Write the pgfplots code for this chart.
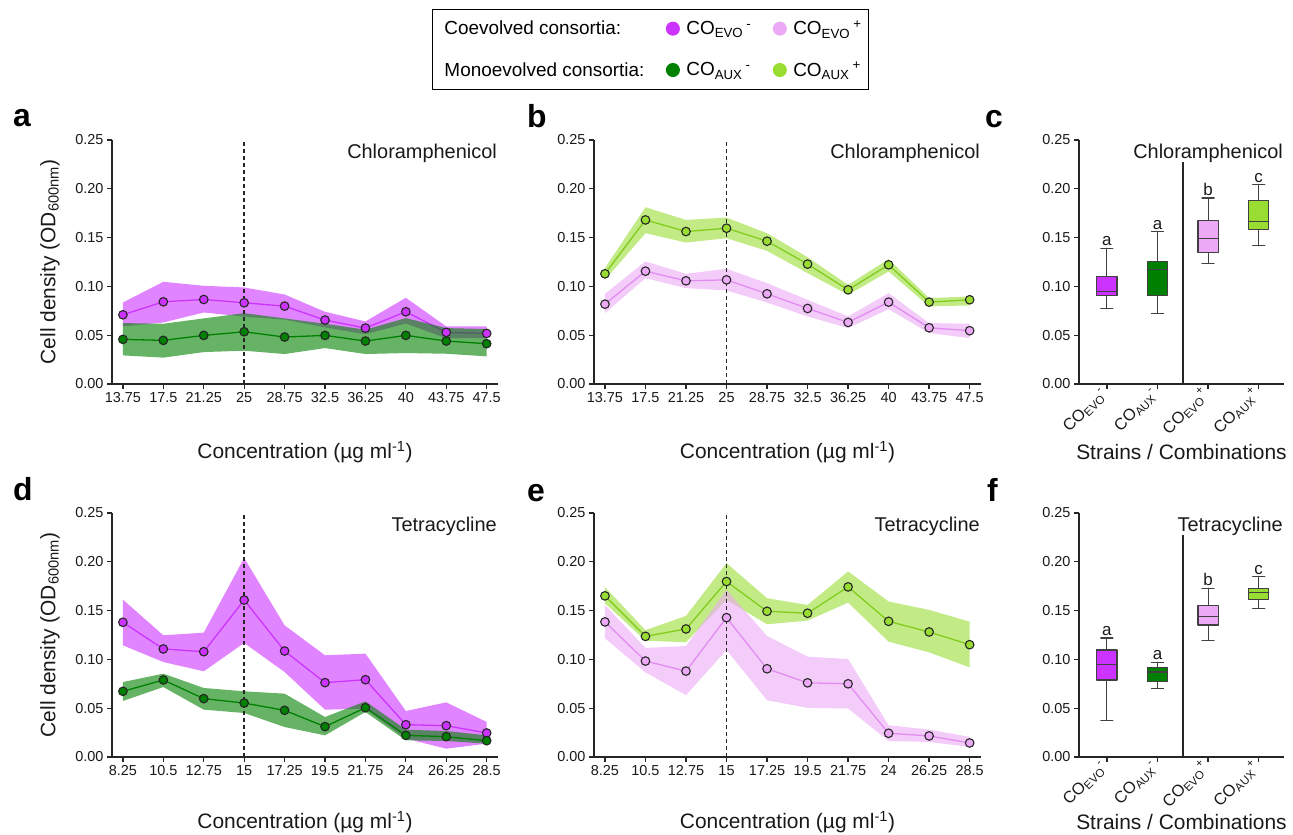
\documentclass[border=0pt]{standalone}
\usepackage{fontspec}
\setmainfont{Liberation Sans}
\usepackage{pgfplots}
\pgfplotsset{compat=1.18}
\usepackage{pgfplotstable}

\definecolor{cMag}{RGB}{204,51,255}
\definecolor{cGrn}{RGB}{0,128,0}
\definecolor{cPnk}{RGB}{236,170,246}
\definecolor{cPnkL}{RGB}{226,140,242}
\definecolor{cLim}{RGB}{153,221,51}
\definecolor{cLimL}{RGB}{130,204,30}

% means; m1 = CO_EVO, m2 = CO_AUX
\pgfplotstableread{
x m1 m2
0 0.0709 0.0457
1 0.0842 0.0447
2 0.0866 0.0498
3 0.0832 0.0535
4 0.0798 0.0481
5 0.0655 0.0498
6 0.0573 0.0440
7 0.0740 0.0498
8 0.0529 0.0440
9 0.0518 0.0413
}\tA
\pgfplotstableread{
x m1 m2
0 0.0818 0.1129
1 0.1156 0.1681
2 0.1057 0.1562
3 0.1067 0.1596
4 0.0924 0.1463
5 0.0774 0.1228
6 0.0631 0.0965
7 0.0839 0.1221
8 0.0576 0.0839
9 0.0546 0.0863
}\tB
\pgfplotstableread{
x m1 m2
0 0.1380 0.0673
1 0.1107 0.0789
2 0.1079 0.0598
3 0.1608 0.0553
4 0.1086 0.0478
5 0.0762 0.0311
6 0.0792 0.0505
7 0.0331 0.0222
8 0.0321 0.0208
9 0.0246 0.0167
}\tD
\pgfplotstableread{
x m1 m2
0 0.1384 0.1651
1 0.0983 0.1236
2 0.0880 0.1312
3 0.1428 0.1798
4 0.0904 0.1493
5 0.0760 0.1473
6 0.0750 0.1743
7 0.0243 0.1390
8 0.0216 0.1281
9 0.0144 0.1151
}\tE

% #1 table, #2 mean col, #3 line colour, #4 marker fill
\newcommand{\mline}[4]{%
  \addplot[color=#3, line width=1.3bp, mark=*, mark size=4.3bp,
    mark options={fill=#4, draw=black!85, line width=1.1bp, solid}, forget plot]
    table[x=x, y=#2]{#1};
}
\newcommand{\refdash}{%
  \addplot[black!85, line width=1.5bp, dash pattern=on 4bp off 3bp, forget plot]
    coordinates {(3,0) (3,0.25)};
}
% box plot: #1 position, #2 lower whisker, #3 q1, #4 median, #5 q3, #6 upper whisker, #7 colour
\newcommand{\bxp}[7]{%
  \addplot[bxl, x filter/.expression={x+#1}] coordinates {(0,#2) (0,#3)};
  \addplot[bxl, x filter/.expression={x+#1}] coordinates {(0,#5) (0,#6)};
  \addplot[bxl, x filter/.expression={x+#1}] coordinates {(-0.12,#2) (0.12,#2)};
  \addplot[bxl, x filter/.expression={x+#1}] coordinates {(-0.12,#6) (0.12,#6)};
  \addplot[bxl, fill=#7, x filter/.expression={x+#1}] coordinates {(-0.2,#3) (0.2,#3) (0.2,#5) (-0.2,#5) (-0.2,#3)};
  \addplot[bxl, x filter/.expression={x+#1}] coordinates {(-0.2,#4) (0.2,#4)};
}

\tikzset{
  ttl/.style={anchor=north east, inner sep=0pt, yshift=-4bp, xshift=-1bp,
    font=\fontsize{20}{24}\selectfont, text=black!90},
  sig/.style={anchor=south, inner sep=2bp, font=\fontsize{17}{20}\selectfont, text=black!90},
  bandst/.style={fill=#1, fill opacity=0.6, draw=none},
}

\pgfplotsset{
  bxl/.style={draw=black!75, line width=1.1bp, line cap=round, line join=round, mark=none, forget plot},
  base/.style={scale only axis, height=244bp, ymin=0, ymax=0.25,
    ytick={0,0.05,0.1,0.15,0.2,0.25},
    axis x line*=bottom, axis y line*=left,
    axis line style={line width=1.6bp, black!85},
    tick align=outside, major tick length=5bp,
    tick style={line width=1.3bp, black!85},
    tick label style={font=\fontsize{14.5}{17}\selectfont, text=black!90},
    /pgf/number format/assume math mode=true,
    yticklabel style={/pgf/number format/fixed, /pgf/number format/fixed zerofill,
      /pgf/number format/precision=2},
    label style={font=\fontsize{21}{25}\selectfont, text=black!90},
    clip=false, anchor=south west},
  linepanel/.style={base, width=386bp, xmin=-0.27, xmax=9.28, xtick={0,...,9}},
  boxpanel/.style={base, width=205bp, xmin=-0.55, xmax=3.5, xtick={0,1,2,3},
    xticklabel style={rotate=45, anchor=east, font=\fontsize{16.5}{19}\selectfont},
    xticklabels={CO\textsubscript{EVO}\textsuperscript{-}, CO\textsubscript{AUX}\textsuperscript{-},
      CO\textsubscript{EVO}\textsuperscript{+}, CO\textsubscript{AUX}\textsuperscript{+}},
    xlabel={Strains / Combinations}},
}

\begin{document}
\begin{tikzpicture}
\path[use as bounding box] (0,0) rectangle (1293bp,835bp);

% ---------- a ----------
\begin{axis}[linepanel, at={(112bp,451bp)},
  xticklabels={13.75,17.5,21.25,25,28.75,32.5,36.25,40,43.75,47.5},
  xlabel={Concentration (µg ml\textsuperscript{-1})},
  ylabel={Cell density (OD\textsubscript{600nm})},
  xlabel style={at={(axis description cs:0.5,-0.279)}, anchor=center},
  ylabel style={at={(axis description cs:-0.1606,0.5)}, anchor=center},
  legend columns=3, legend cell align=left,
  legend style={at={(axis description cs:0.829,1.537)}, anchor=north west,
    draw=black, line width=1bp, font=\fontsize{19}{23}\selectfont,
    inner xsep=5bp, inner ysep=9.5bp, row sep=22bp,
    /tikz/every odd column/.append style={column sep=5bp},
    /tikz/every even column/.append style={column sep=20bp}}]
\addlegendimage{empty legend}\addlegendentry{Coevolved consortia:}
\addlegendimage{only marks, mark=*, mark size=6.5bp, mark options={fill=cMag, draw=cMag}}
\addlegendentry{CO\textsubscript{EVO}\,\textsuperscript{-}}
\addlegendimage{only marks, mark=*, mark size=6.5bp, mark options={fill=cPnk, draw=cPnk}}
\addlegendentry{CO\textsubscript{EVO}\,\textsuperscript{+}}
\addlegendimage{empty legend}\addlegendentry{Monoevolved consortia:}
\addlegendimage{only marks, mark=*, mark size=6.5bp, mark options={fill=cGrn, draw=cGrn}}
\addlegendentry{CO\textsubscript{AUX}\,\textsuperscript{-}}
\addlegendimage{only marks, mark=*, mark size=6.5bp, mark options={fill=cLim, draw=cLim}}
\addlegendentry{CO\textsubscript{AUX}\,\textsuperscript{+}}
\addplot[bandst=cMag, forget plot] coordinates {(0,0.0835) (1,0.1047) (2,0.1006) (3,0.0989) (4,0.0917) (5,0.0740) (6,0.0641) (7,0.0883) (8,0.0590) (9,0.0590) (9,0.0470) (8,0.0470) (7,0.0620) (6,0.0510) (5,0.0580) (4,0.0660) (3,0.0690) (2,0.0733) (1,0.0630) (0,0.0590)};
\mline{\tA}{m1}{cMag}{cMag}
\addplot[bandst=cGrn, forget plot] coordinates {(0,0.0624) (1,0.0617) (2,0.0672) (3,0.0726) (4,0.0672) (5,0.0617) (6,0.0556) (7,0.0675) (8,0.0573) (9,0.0563) (9,0.0283) (8,0.0310) (7,0.0317) (6,0.0307) (5,0.0368) (4,0.0307) (3,0.0341) (2,0.0327) (1,0.0270) (0,0.0293)};
\refdash
\mline{\tA}{m2}{cGrn}{cGrn}
\node[ttl] at (rel axis cs:1,1) {Chloramphenicol};
\end{axis}

% ---------- b ----------
\begin{axis}[linepanel, at={(594bp,451bp)}, width=387bp,
  xticklabels={13.75,17.5,21.25,25,28.75,32.5,36.25,40,43.75,47.5},
  xlabel={Concentration (µg ml\textsuperscript{-1})},
  xlabel style={at={(axis description cs:0.5,-0.279)}, anchor=center}]
\addplot[bandst=cPnk, forget plot] coordinates {(0,0.0924) (1,0.1255) (2,0.1129) (3,0.1180) (4,0.1033) (5,0.0863) (6,0.0692) (7,0.0931) (8,0.0624) (9,0.0617) (9,0.0470) (8,0.0522) (7,0.0767) (6,0.0573) (5,0.0692) (4,0.0835) (3,0.0958) (2,0.0982) (1,0.1084) (0,0.0726)};
\mline{\tB}{m1}{cPnkL}{cPnk}
\addplot[bandst=cLim, forget plot] coordinates {(0,0.1187) (1,0.1811) (2,0.1681) (3,0.1705) (4,0.1545) (5,0.1299) (6,0.1016) (7,0.1279) (8,0.0880) (9,0.0897) (9,0.0805) (8,0.0795) (7,0.1153) (6,0.0914) (5,0.1136) (4,0.1364) (3,0.1494) (2,0.1449) (1,0.1545) (0,0.1067)};
\refdash
\mline{\tB}{m2}{cLimL}{cLim}
\node[ttl] at (rel axis cs:1,1) {Chloramphenicol};
\end{axis}

% ---------- c ----------
\begin{axis}[boxpanel, at={(1079bp,451bp)},
  xlabel style={at={(axis description cs:0.5,-0.279)}, anchor=center}]
\bxp{0}{0.0771}{0.0910}{0.0951}{0.1105}{0.1391}{cMag}
\bxp{1}{0.0726}{0.0910}{0.1176}{0.1251}{0.1558}{cGrn}
\bxp{2}{0.1234}{0.1347}{0.1494}{0.1674}{0.1906}{cPnk}
\bxp{3}{0.1415}{0.1586}{0.1667}{0.1879}{0.2043}{cLim}
\node[sig] at (axis cs:0,0.1391) {a};
\node[sig] at (axis cs:1,0.1558) {a};
\node[sig] at (axis cs:2,0.1906) {b};
\node[sig] at (axis cs:3,0.2043) {c};
\draw[black!85, line width=1.5bp] (axis cs:1.5,0) -- (axis cs:1.5,0.227);
\node[ttl] at (rel axis cs:1,1) {Chloramphenicol};
\end{axis}

% ---------- d ----------
\begin{axis}[linepanel, at={(112bp,78bp)},
  xticklabels={8.25,10.5,12.75,15,17.25,19.5,21.75,24,26.25,28.5},
  xlabel={Concentration (µg ml\textsuperscript{-1})},
  ylabel={Cell density (OD\textsubscript{600nm})},
  xlabel style={at={(axis description cs:0.5,-0.266)}, anchor=center},
  ylabel style={at={(axis description cs:-0.1606,0.5)}, anchor=center}]
\addplot[bandst=cMag, forget plot] coordinates {(0,0.1612) (1,0.1247) (2,0.1274) (3,0.2039) (4,0.1349) (5,0.1042) (6,0.1059) (7,0.0471) (8,0.0560) (9,0.0359) (9,0.0137) (8,0.0085) (7,0.0188) (6,0.0495) (5,0.0485) (4,0.0871) (3,0.1168) (2,0.0878) (1,0.0973) (0,0.1144)};
\mline{\tD}{m1}{cMag}{cMag}
\addplot[bandst=cGrn, forget plot] coordinates {(0,0.0768) (1,0.0854) (2,0.0707) (3,0.0673) (4,0.0649) (5,0.0410) (6,0.0570) (7,0.0280) (8,0.0266) (9,0.0222) (9,0.0137) (8,0.0164) (7,0.0171) (6,0.0461) (5,0.0222) (4,0.0307) (3,0.0451) (2,0.0485) (1,0.0717) (0,0.0574)};
\refdash
\mline{\tD}{m2}{cGrn}{cGrn}
\node[ttl] at (rel axis cs:1,1) {Tetracycline};
\end{axis}

% ---------- e ----------
\begin{axis}[linepanel, at={(594bp,78bp)}, width=387bp,
  xticklabels={8.25,10.5,12.75,15,17.25,19.5,21.75,24,26.25,28.5},
  xlabel={Concentration (µg ml\textsuperscript{-1})},
  xlabel style={at={(axis description cs:0.5,-0.266)}, anchor=center}]
\addplot[bandst=cLim, forget plot] coordinates {(0,0.1740) (1,0.1300) (2,0.1445) (3,0.1986) (4,0.1627) (5,0.1558) (6,0.1901) (7,0.1593) (8,0.1507) (9,0.1387) (9,0.0918) (8,0.1072) (7,0.1182) (6,0.1582) (5,0.1397) (4,0.1360) (3,0.1610) (2,0.1175) (1,0.1192) (0,0.1575)};
\mline{\tE}{m2}{cLimL}{cLim}
\addplot[bandst=cPnk, forget plot] coordinates {(0,0.1558) (1,0.1117) (2,0.1137) (3,0.1712) (4,0.1240) (5,0.1028) (6,0.1004) (7,0.0325) (8,0.0281) (9,0.0206) (9,0.0103) (8,0.0154) (7,0.0164) (6,0.0497) (5,0.0503) (4,0.0582) (3,0.1096) (2,0.0634) (1,0.0867) (0,0.1216)};
\refdash
\mline{\tE}{m1}{cPnkL}{cPnk}
\node[ttl] at (rel axis cs:1,1) {Tetracycline};
\end{axis}

% ---------- f ----------
\begin{axis}[boxpanel, at={(1079bp,78bp)},
  xlabel style={at={(axis description cs:0.5,-0.266)}, anchor=center}]
\bxp{0}{0.0376}{0.0789}{0.0949}{0.1096}{0.1219}{cMag}
\bxp{1}{0.0700}{0.0775}{0.0871}{0.0915}{0.0970}{cGrn}
\bxp{2}{0.1195}{0.1352}{0.1444}{0.1550}{0.1731}{cPnk}
\bxp{3}{0.1520}{0.1615}{0.1687}{0.1725}{0.1848}{cLim}
\node[sig] at (axis cs:0,0.1219) {a};
\node[sig] at (axis cs:1,0.0970) {a};
\node[sig] at (axis cs:2,0.1731) {b};
\node[sig] at (axis cs:3,0.1848) {c};
\draw[black!85, line width=1.5bp] (axis cs:1.5,0) -- (axis cs:1.5,0.227);
\node[ttl] at (rel axis cs:1,1) {Tetracycline};
\end{axis}

% panel letters
\begin{scope}[every node/.style={anchor=base west, inner sep=0pt, font=\fontsize{32}{36}\selectfont\bfseries}]
\node at (13bp,708bp) {a};
\node at (527bp,707bp) {b};
\node at (985bp,707bp) {c};
\node at (13bp,334bp) {d};
\node at (527bp,333bp) {e};
\node at (987bp,333bp) {f};
\end{scope}
\end{tikzpicture}
\end{document}
